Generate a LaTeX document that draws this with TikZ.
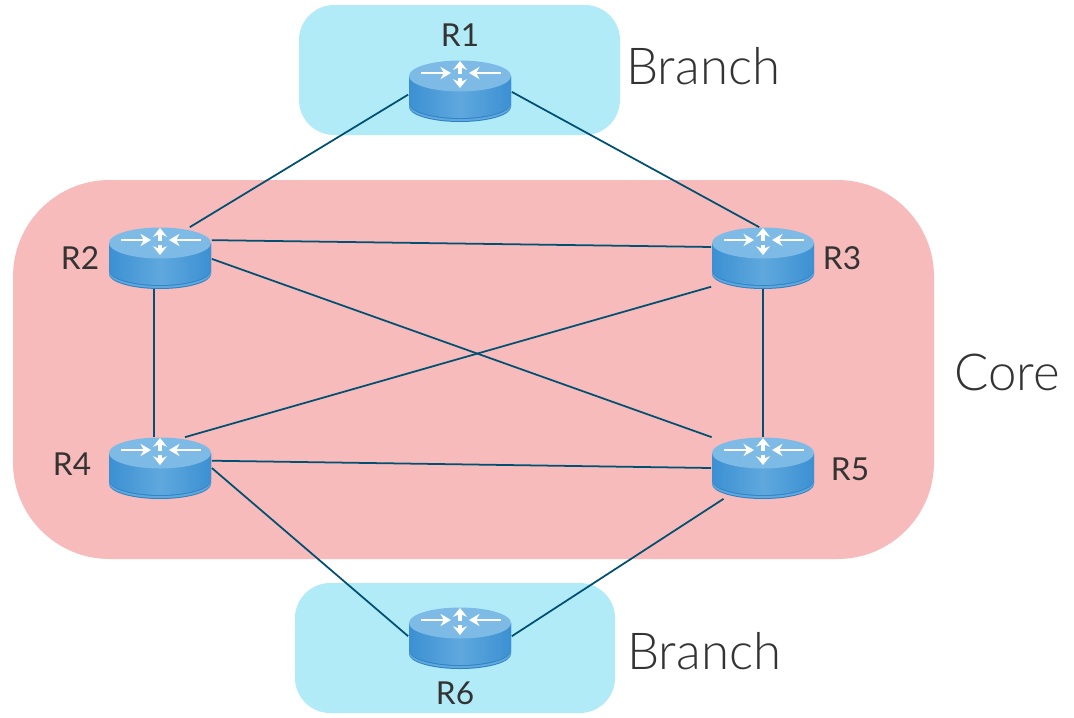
\documentclass[tikz,border=0pt]{standalone}
\usepackage{fontspec}
\usetikzlibrary{arrows.meta}
\setmainfont{Lato}
\newfontfamily\lightfont{Lato Light}
\definecolor{branchcolor}{HTML}{B2EBF8}
\definecolor{corecolor}{HTML}{F6BBBA}
\definecolor{linkcolor}{HTML}{005073}
\definecolor{textcolor}{HTML}{333333}
\definecolor{routertop}{HTML}{7DBAE6}
\definecolor{routerside}{HTML}{3C90D2}
\definecolor{routerlight}{HTML}{5FA8DE}
\definecolor{routerbase}{HTML}{2F80C4}
\tikzset{
    region/.style = {rounded corners=#1, draw=none},
    link/.style = {linkcolor, line width=1pt},
    routerbox/.style = {rectangle, minimum width=2.06cm, minimum height=1.22cm, inner sep=0pt, draw=none},
    router label/.style = {textcolor, font=\fontsize{18}{18}\selectfont, inner sep=0pt},
    area label/.style = {textcolor, font=\lightfont\fontsize{29}{29}\selectfont, inner sep=0pt},
    pics/routerpic/.style = {code={
        % base and side
        \fill[routerbase] (-51, -15) -- (-51, 16) arc (180:0:51 and 15) -- (51, -15) -- cycle;
        \fill[routerlight] (-51, 13) arc (180:0:51 and 15) -- (51, 15) arc (0:180:51 and 15) -- cycle;
        \shade[left color=routerside, right color=routerside, middle color=routerlight]
            (-51, -15) -- (-51, 12) arc (180:0:51 and 15) -- (51, -15) -- cycle;
        % top
        \fill[routertop] (0, -15) ellipse (51 and 15.5);
        % arrows
        \begin{scope}[white, line width=.9pt, -{Stealth[length=6pt, width=7pt]}]
            \draw (-39, -18) -- (-9, -18);
            \draw (41, -18) -- (9, -18);
            \draw[line width=2.2pt, -{Stealth[length=5pt, width=8pt]}] (0, -17) -- (0, -30);
            \draw[line width=2.2pt, -{Stealth[length=5pt, width=8pt]}] (0, -13) -- (0, -3);
        \end{scope}
    }}
}
\begin{document}
\begin{tikzpicture}[x=.02cm, y=-.02cm]
    \useasboundingbox (0, 0) rectangle (1074, 717);
    % draw regions
    \fill[branchcolor, region=20] (299, 5) rectangle (620, 135);
    \fill[corecolor, region=55] (13, 180) rectangle (934, 559);
    \fill[branchcolor, region=20] (295, 583) rectangle (615, 713);
    % draw routers and their names
    \foreach \name/\x/\y/\lx/\ly in {R1/460/91/460/35, R2/160/258/80/258, R3/763/258/842/258,
                                     R4/160/468/72/464, R5/763/468/850/469, R6/460/638/455/693} {
        \pic at (\x, \y) {routerpic};
        \node[routerbox] (\name) at (\x, \y) {};
        \node[router label] (\name label) at (\lx, \ly) {\name};
    }
    % draw links
    \draw[link] (R1.184) -- (R2.46);
    \draw[link] (R1.359) -- (R3.97);
    \draw[link] (R2.19) -- (R3.168);
    \draw[link] (R2.359) -- (R5.149);
    \draw[link] (R3.209) -- (R4.51);
    \draw[link] (R2.259) -- (R4.101);
    \draw[link] (R3.270) -- (R5.90);
    \draw[link] (R4.8) -- (R5.180);
    \draw[link] (R4.0) -- (R6.178);
    \draw[link] (R5.218) -- (R6.2);
    % draw area names
    \node[area label, anchor=west] (branch top) at (626, 66) {Branch};
    \node[area label, anchor=east] (core) at (1060, 372) {Core};
    \node[area label, anchor=west] (branch bottom) at (627, 651) {Branch};
\end{tikzpicture}
\end{document}
